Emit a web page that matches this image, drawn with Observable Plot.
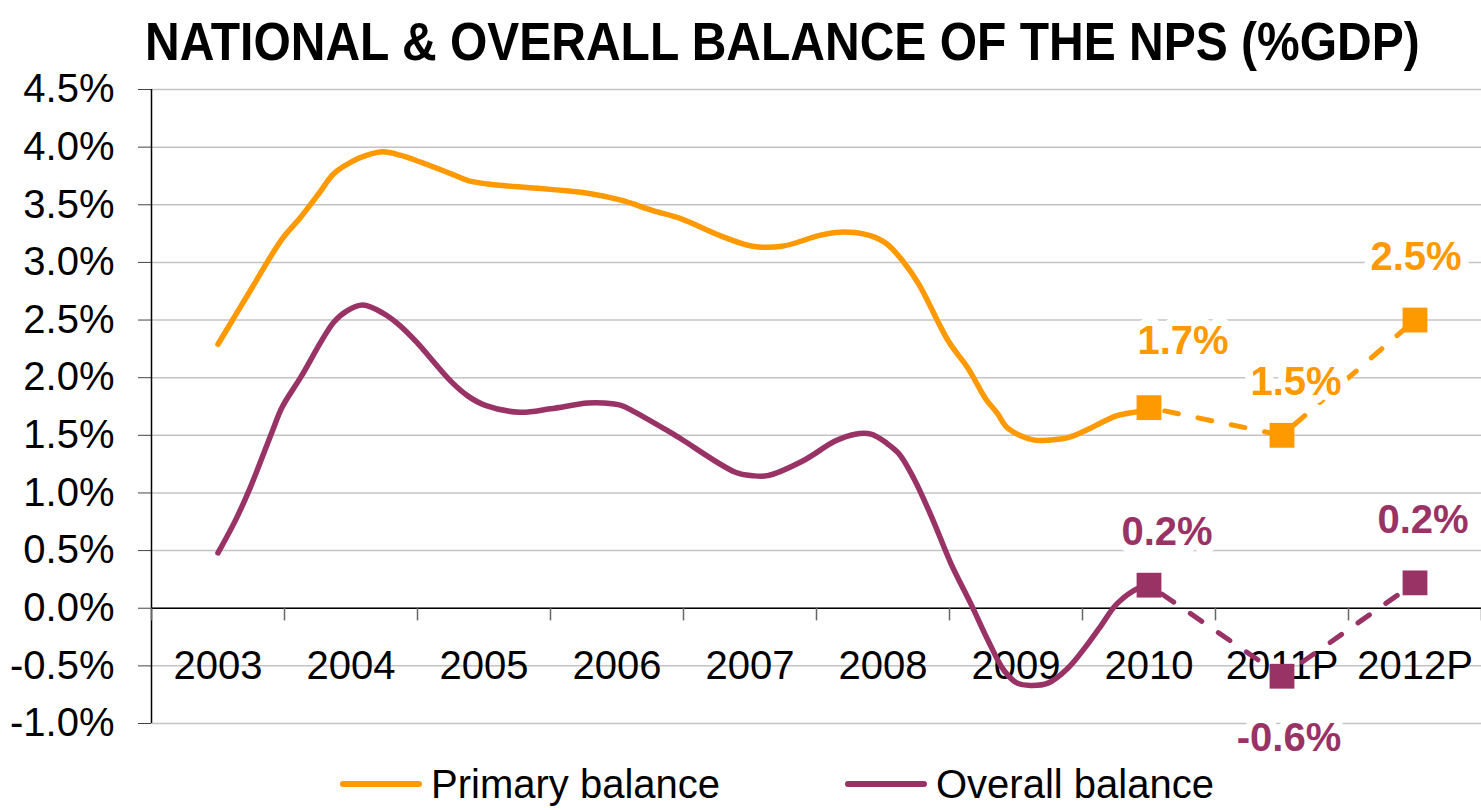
<!DOCTYPE html>
<html><head><meta charset="utf-8">
<script src="https://cdn.jsdelivr.net/npm/d3@7"></script>
<script src="https://cdn.jsdelivr.net/npm/@observablehq/plot@0.6"></script>
<style>
body{margin:0;background:#fff;font-family:"Liberation Sans",Arial,sans-serif;}
#wrap{position:relative;width:1481px;height:810px;overflow:hidden;background:#fff}
#title{position:absolute;left:0;top:12px;width:1481px;padding-left:145px;box-sizing:border-box;font-weight:bold;font-size:48px;line-height:56px;white-space:nowrap;color:#000;transform:scale(1,1.1);transform-origin:0 0}
#chart{position:absolute;left:0;top:80px}
#legend{position:absolute;top:760px;left:0;width:1481px;height:50px}
.item{position:absolute;top:0;height:48px;display:flex;align-items:center;font-size:40px;line-height:48px;color:#000;white-space:nowrap}
.sw{display:inline-block;width:82px;height:6px;border-radius:3px;margin-right:9px}
</style></head>
<body><div id="wrap"><div id="title">NATIONAL &amp; OVERALL BALANCE OF THE NPS (%GDP)</div><div id="chart"></div><div id="legend"></div></div>
<script>
// ---- data ----
const categories = ["2003","2004","2005","2006","2007","2008","2009","2010","2011P","2012P"];
const yTicks = [-1.0,-0.5,0.0,0.5,1.0,1.5,2.0,2.5,3.0,3.5,4.0,4.5];

const primaryYears = [2003.00,2003.24,2003.48,2003.62,2003.76,2003.87,2004.00,2004.12,2004.24,2004.37,2004.75,2004.88,2005.03,2005.78,2006.03,2006.27,2006.48,2006.78,2007.02,2007.24,2007.51,2007.64,2007.78,2007.91,2008.03,2008.15,2008.27,2008.49,2008.64,2008.77,2008.86,2008.94,2009.13,2009.26,2009.39,2009.52,2009.76,2009.93,2010.00];
const primaryValues = [2.29,2.75,3.20,3.39,3.60,3.77,3.87,3.93,3.96,3.93,3.77,3.71,3.68,3.60,3.54,3.45,3.38,3.23,3.14,3.14,3.23,3.26,3.26,3.23,3.16,3.01,2.81,2.32,2.08,1.82,1.69,1.56,1.46,1.46,1.48,1.54,1.67,1.71,1.74];

const overallYears = [2003.00,2003.13,2003.24,2003.41,2003.48,2003.62,2003.87,2003.97,2004.09,2004.24,2004.37,2004.50,2004.75,2004.88,2005.01,2005.27,2005.50,2005.78,2005.90,2006.03,2006.12,2006.38,2006.48,2006.89,2007.02,2007.13,2007.40,2007.64,2007.79,2007.91,2008.03,2008.12,2008.23,2008.37,2008.51,2008.66,2008.79,2008.91,2009.01,2009.11,2009.24,2009.39,2009.52,2009.64,2009.76,2009.93,2010.00];
const overallValues = [0.48,0.76,1.04,1.54,1.74,2.00,2.48,2.58,2.63,2.56,2.45,2.30,1.97,1.84,1.76,1.70,1.73,1.78,1.78,1.76,1.71,1.54,1.47,1.18,1.15,1.15,1.28,1.45,1.51,1.51,1.43,1.34,1.13,0.78,0.39,0.04,-0.28,-0.54,-0.65,-0.67,-0.65,-0.52,-0.34,-0.15,0.04,0.18,0.20];

const forecastCategories = ["2010","2011P","2012P"];
const primaryForecast = [1.74,1.50,2.50];
const overallForecast = [0.20,-0.59,0.22];
const primaryLabels = ["1.7%","1.5%","2.5%"];
const overallLabels = ["0.2%","-0.6%","0.2%"];

const seriesNames = ["Primary balance","Overall balance"];
const seriesColors = ["#FF9900","#993366"];

// ---- build ----
const catX = c => 2003 + categories.indexOf(c);
const primaryLine = primaryYears.map((x,i)=>({x, y: primaryValues[i]}));
const overallLine = overallYears.map((x,i)=>({x, y: overallValues[i]}));
const primaryF = forecastCategories.map((c,i)=>({x: catX(c), y: primaryForecast[i], label: primaryLabels[i]}));
const overallF = forecastCategories.map((c,i)=>({x: catX(c), y: overallForecast[i], label: overallLabels[i]}));
const boundaries = d3.range(categories.length + 1).map(i => 2002.5 + i);
const fmt = d => d.toFixed(1) + "%";

// label offsets (px) relative to their points
const pOff = [[34,-66],[14,-53],[1,-63]];
const oOff = [[18,-53],[7,62],[8,-63]];

const labelMarks = [];
primaryF.forEach((d,i)=>labelMarks.push(Plot.text([d],{x:"x",y:"y",text:"label",dx:pOff[i][0],dy:pOff[i][1],fill:seriesColors[0],stroke:"white",strokeWidth:16,fontSize:40,fontWeight:"bold"})));
overallF.forEach((d,i)=>labelMarks.push(Plot.text([d],{x:"x",y:"y",text:"label",dx:oOff[i][0],dy:oOff[i][1],fill:seriesColors[1],stroke:"white",strokeWidth:16,fontSize:40,fontWeight:"bold"})));

const chart = Plot.plot({
  width: 1481,
  height: 680,
  marginTop: 9,
  marginBottom: 37,
  marginLeft: 151,
  marginRight: 0,
  style: {fontFamily: '"Liberation Sans", Arial, sans-serif', color: "black", background: "white", overflow: "visible"},
  x: {domain: [2002.5, 2012.5], axis: null},
  y: {domain: [-1, 4.5], axis: null},
  marks: [
    Plot.ruleY(yTicks, {stroke: "#c4c4c4", strokeWidth: 1.5}),
    Plot.axisY({ticks: yTicks, tickFormat: fmt, tickSize: 13, tickPadding: 24, fontSize: 40, label: null, stroke: "#444"}),
    Plot.ruleX([2002.5], {stroke: "black", strokeWidth: 1.5}),
    Plot.ruleY([0], {stroke: "black", strokeWidth: 1.5}),
    Plot.ruleX(boundaries, {y1: 0, y2: -0.11, stroke: "#666", strokeWidth: 1.5}),
    Plot.text(categories, {x: (d,i) => 2003 + i, y: () => 0, text: d => d, dy: 58, fontSize: 40, fill: "black"}),
    Plot.line(primaryLine, {x: "x", y: "y", stroke: seriesColors[0], strokeWidth: 5.5, curve: "catmull-rom"}),
    Plot.line(overallLine, {x: "x", y: "y", stroke: seriesColors[1], strokeWidth: 5.5, curve: "catmull-rom"}),
    Plot.line(primaryF, {x: "x", y: "y", stroke: seriesColors[0], strokeWidth: 5, strokeDasharray: "14,20", strokeDashoffset: -16}),
    Plot.line(overallF, {x: "x", y: "y", stroke: seriesColors[1], strokeWidth: 5, strokeDasharray: "14,20", strokeDashoffset: -16}),
    Plot.dot(primaryF, {x: "x", y: "y", symbol: "square", r: 14, fill: seriesColors[0]}),
    Plot.dot(overallF, {x: "x", y: "y", symbol: "square", r: 14, fill: seriesColors[1]}),
    ...labelMarks
  ]
});
document.getElementById("chart").appendChild(chart);

// legend
const legend = document.getElementById("legend");
const lefts = [340, 845];
seriesNames.forEach((n,i)=>{
  const it = document.createElement("div");
  it.className = "item";
  it.style.left = lefts[i] + "px";
  const sw = document.createElement("span");
  sw.className = "sw";
  sw.style.background = seriesColors[i];
  it.appendChild(sw);
  it.appendChild(document.createTextNode(n));
  legend.appendChild(it);
});
</script>
</body></html>
